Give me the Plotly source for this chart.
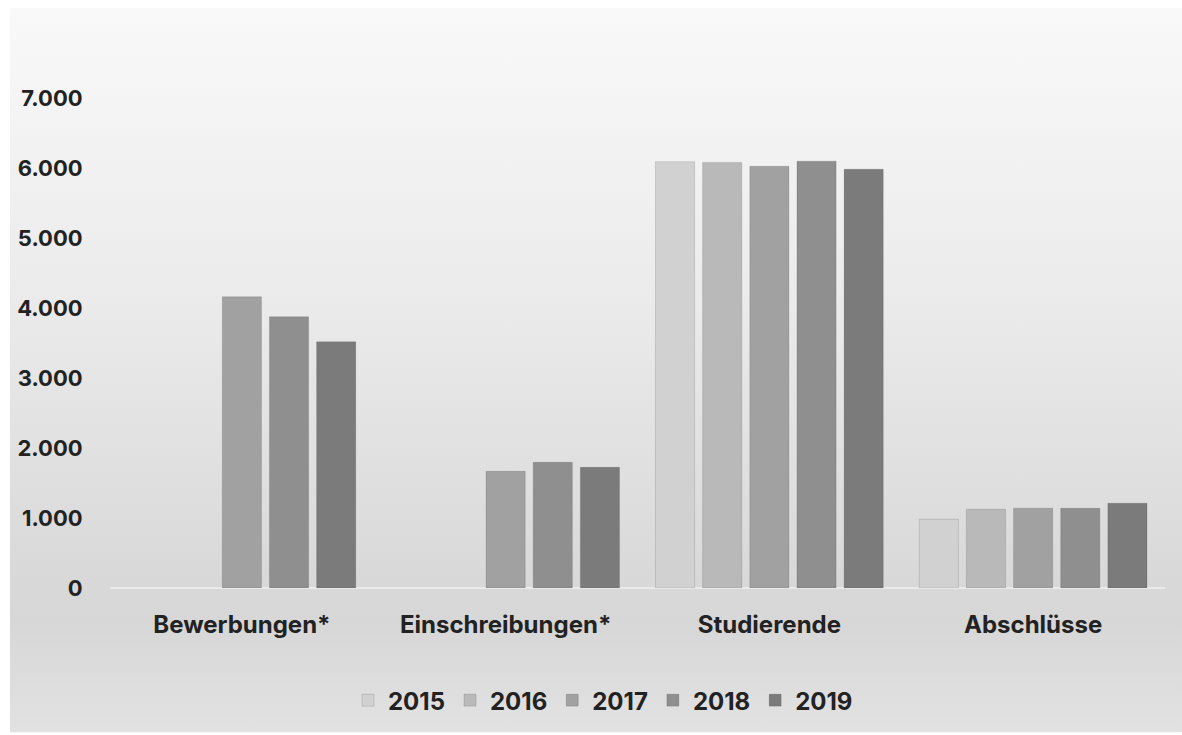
import base64
import plotly.graph_objects as go

categories = ["Bewerbungen*", "Einschreibungen*", "Studierende", "Abschlüsse"]
years = ["2015", "2016", "2017", "2018", "2019"]
values = {
    "2015": [None, None, 6090, 983],
    "2016": [None, None, 6080, 1125],
    "2017": [4160, 1667, 6025, 1140],
    "2018": [3875, 1795, 6097, 1138],
    "2019": [3519, 1724, 5983, 1211],
}
tick_vals = [0, 1000, 2000, 3000, 4000, 5000, 6000, 7000]
tick_text = ["0", "1.000", "2.000", "3.000", "4.000", "5.000", "6.000", "7.000"]

colors = {
    "2015": "#d1d1d1",
    "2016": "#b9b9b9",
    "2017": "#a1a1a1",
    "2018": "#8f8f8f",
    "2019": "#7b7b7b",
}

W, H = 1182, 735
L, R, T, B = 110, 17, 28, 145
pw, ph = W - L - R, H - T - B

svg = (
    '<svg xmlns="http://www.w3.org/2000/svg" width="100" height="100" preserveAspectRatio="none">'
    '<defs><linearGradient id="g" x1="0" y1="0" x2="0" y2="1">'
    '<stop offset="0" stop-color="#f9f9f9"/>'
    '<stop offset="0.4" stop-color="#ebebeb"/>'
    '<stop offset="0.8" stop-color="#d8d8d8"/>'
    '<stop offset="0.85" stop-color="#d7d7d7"/>'
    '<stop offset="1" stop-color="#e2e2e2"/>'
    '</linearGradient></defs>'
    '<rect width="100" height="100" fill="url(#g)"/></svg>'
)
src = "data:image/svg+xml;base64," + base64.b64encode(svg.encode()).decode()

fig = go.Figure()
for y in years:
    fig.add_trace(go.Bar(
        name=y, x=categories, y=values[y],
        marker=dict(color=colors[y], line=dict(color="rgba(0,0,0,0.12)", width=1)),
    ))

FS = 22
FX = 24
font = dict(family="Inter, Roboto, Liberation Sans, Arial, sans-serif", size=FS, color="#222222")

fig.update_layout(
    width=W, height=H,
    margin=dict(l=L, r=R, t=T, b=B),
    paper_bgcolor="white",
    plot_bgcolor="rgba(0,0,0,0)",
    barmode="group",
    bargap=0.106,
    bargroupgap=0.17,
    font=font,
    showlegend=True,
    legend=dict(orientation="h", x=(603 - L) / pw, xanchor="center", y=-0.201, yanchor="middle",
                font=dict(size=FX, weight="bold", color="#222222"), bgcolor="rgba(0,0,0,0)",
                itemwidth=30, traceorder="normal"),
    images=[dict(
        source=src, xref="paper", yref="paper",
        x=(10 - L) / pw, y=(H - B - 8) / ph,
        sizex=(W - 10) / pw, sizey=(H - 8) / ph,
        xanchor="left", yanchor="top", sizing="stretch", layer="below",
    )],
)
fig.update_xaxes(showgrid=False, showline=False, ticks="outside", ticklen=15,
                 tickcolor="rgba(0,0,0,0)", tickfont=dict(size=FX, weight="bold"))
fig.update_yaxes(range=[0, 8000], tickvals=tick_vals, ticktext=tick_text,
                 showgrid=False, zeroline=True, zerolinecolor="#eaeaea", zerolinewidth=2,
                 showline=False, ticks="outside", ticklen=22, tickcolor="rgba(0,0,0,0)",
                 tickfont=dict(size=FS, weight="bold"))

fig.write_html("out.html")
